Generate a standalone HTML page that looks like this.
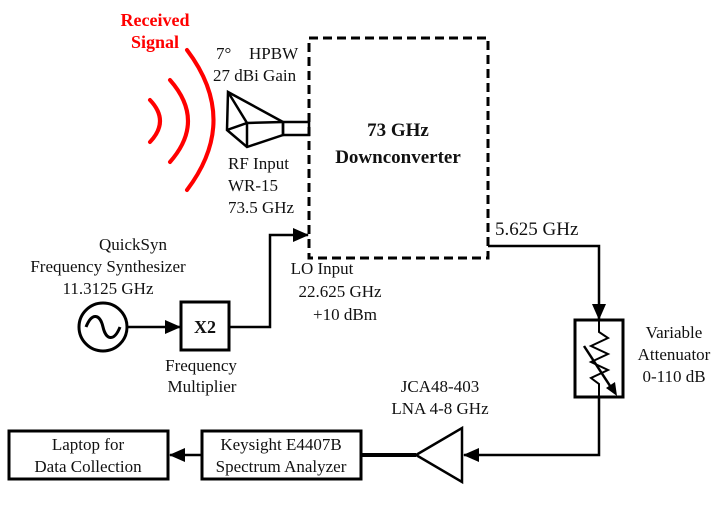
<!DOCTYPE html><html><head><style>body{margin:0;background:#fff}svg{display:block}svg text{font-family:"Liberation Serif","Times New Roman",serif;font-size:17px;fill:#111}</style></head><body>
<svg width="721" height="522" viewBox="0 0 721 522" xmlns="http://www.w3.org/2000/svg" font-family="Liberation Serif, Times New Roman, serif">
<defs><marker id="b" markerWidth="16" markerHeight="14" refX="15" refY="7" orient="auto" markerUnits="userSpaceOnUse"><path d="M0,0 L16,7 L0,14 z" fill="#000"/></marker></defs>
<g fill="none" stroke="red" stroke-width="4" stroke-linecap="round">
<path d="M150,100 Q170,121 150,142"/>
<path d="M170,80 Q206,121 170,162"/>
<path d="M187,50 Q240,120 187,190"/>
</g>
<text x="155" y="26" text-anchor="middle" font-family="Liberation Serif, serif" style="fill:red;font-weight:bold;font-size:18px">Received</text>
<text x="155" y="48" text-anchor="middle" font-family="Liberation Serif, serif" style="fill:red;font-weight:bold;font-size:18px">Signal</text>
<text x="216" y="59">7°</text><text x="249" y="59">HPBW</text>
<text x="213" y="81">27 dBi Gain</text>
<g fill="none" stroke="#000" stroke-width="2.5">
<path d="M228,92 L283,122 L283,135 L247,147 L227,130 Z"/>
<path d="M228,92 L247,123 L247,147 M227,130 L247,123 L283,122"/>
<rect x="283" y="122" width="26" height="13"/>
<rect x="309" y="38" width="179" height="220" stroke-dasharray="9,5" stroke-width="3"/>
</g>
<text x="228" y="169">RF Input</text>
<text x="228" y="191">WR-15</text>
<text x="228" y="213">73.5 GHz</text>
<text x="398" y="136" text-anchor="middle" style="font-weight:bold;font-size:19px">73 GHz</text>
<text x="398" y="163" text-anchor="middle" style="font-weight:bold;font-size:19px">Downconverter</text>
<text x="495" y="235" style="font-size:19px">5.625 GHz</text>
<text x="133" y="250" text-anchor="middle">QuickSyn</text>
<text x="108" y="272" text-anchor="middle">Frequency Synthesizer</text>
<text x="108" y="294" text-anchor="middle">11.3125 GHz</text>
<g fill="none" stroke="#000" stroke-width="3">
<circle cx="103" cy="327" r="24"/>
<rect x="181" y="302" width="48" height="48"/>
<rect x="575" y="320" width="48" height="77"/>
<rect x="9" y="431" width="159" height="48"/>
<rect x="202" y="431" width="159" height="48"/>
<path d="M416,455 L462,428 L462,482 Z" stroke-width="2.5"/>
</g>
<path d="M86,327 C92,312 100,314 103,327 C106,340 114,342 120,327" fill="none" stroke="#000" stroke-width="3"/>
<g fill="none" stroke="#000" stroke-width="2.5">
<path d="M127,327 L180,327" marker-end="url(#b)"/>
<path d="M229,327 L270,327 L270,235 L308,235" marker-end="url(#b)"/>
<path d="M488,246 L599,246 L599,319" marker-end="url(#b)"/>
<path d="M599,397 L599,455 L464,455" marker-end="url(#b)"/>
<path d="M361,455 L416,455" stroke-width="4"/>
<path d="M202,455 L170,455" marker-end="url(#b)"/>
<path d="M599,320 L599,332 L608,338 L591,346 L608,354 L591,362 L608,370 L591,378 L599,384 L599,397" stroke-width="2"/>
<path d="M584,346 L614,392" stroke-width="2.5"/>
</g>
<path d="M617,396 L606,388 L615,382 Z" fill="#000"/>
<text x="322" y="274" text-anchor="middle">LO Input</text>
<text x="340" y="297" text-anchor="middle">22.625 GHz</text>
<text x="345" y="320" text-anchor="middle">+10 dBm</text>
<text x="205" y="333" text-anchor="middle" style="font-weight:bold;font-size:18px">X2</text>
<text x="201" y="371" text-anchor="middle">Frequency</text>
<text x="202" y="392" text-anchor="middle">Multiplier</text>
<text x="674" y="338" text-anchor="middle">Variable</text>
<text x="674" y="360" text-anchor="middle">Attenuator</text>
<text x="674" y="382" text-anchor="middle">0-110 dB</text>
<text x="440" y="392" text-anchor="middle">JCA48-403</text>
<text x="440" y="414" text-anchor="middle">LNA 4-8 GHz</text>
<text x="88" y="450" text-anchor="middle">Laptop for</text>
<text x="88" y="472" text-anchor="middle">Data Collection</text>
<text x="281" y="450" text-anchor="middle">Keysight E4407B</text>
<text x="281" y="472" text-anchor="middle">Spectrum Analyzer</text>
</svg></body></html>
